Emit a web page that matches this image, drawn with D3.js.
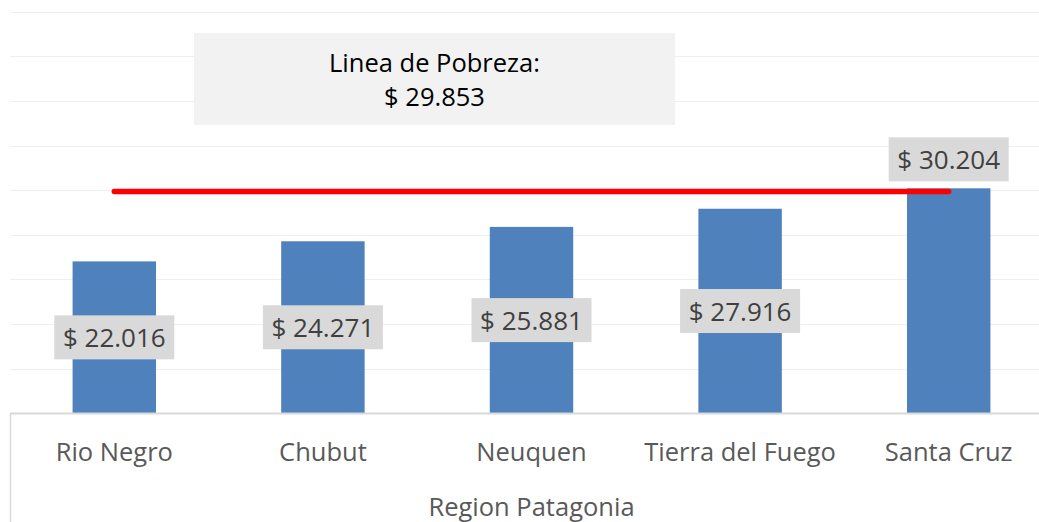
<!DOCTYPE html>
<html><head><meta charset="utf-8">
<script src="https://cdn.jsdelivr.net/npm/d3@7"></script>
<style>body{margin:0;background:#fff}svg{display:block}</style>
</head><body>
<svg id="c" width="1039" height="522"></svg>
<script>
const categories = ["Rio Negro","Chubut","Neuquen","Tierra del Fuego","Santa Cruz"];
const values = [22016,24271,25881,27916,30204];
const labels = ["$ 22.016","$ 24.271","$ 25.881","$ 27.916","$ 30.204"];
const povertyLine = 29853;
const povertyTitle = ["Linea de Pobreza:","$ 29.853"];
const yTicks = [5000,10000,15000,20000,25000,30000,35000,40000,45000,50000];
const axisTitle = "Region Patagonia";

const font = "'Open Sans', sans-serif";
const svg = d3.select("#c");
const x = d3.scaleBand().domain(categories).range([10,1053]).paddingInner(0.6).paddingOuter(0.3);
const y = d3.scaleLinear().domain([5000,50000]).range([413.3,11.6]);

// gridlines
svg.append("g").selectAll("line").data(yTicks.slice(1)).join("line")
  .attr("x1",10).attr("x2",1039).attr("y1",d=>Math.round(y(d))+0.5).attr("y2",d=>Math.round(y(d))+0.5)
  .attr("stroke","#efefef").attr("stroke-width",1);

// bars
svg.append("g").selectAll("rect").data(values).join("rect")
  .attr("x",(d,i)=>x(categories[i])).attr("width",x.bandwidth())
  .attr("y",d=>y(d)).attr("height",d=>y(5000)-y(d)).attr("fill","#4f81bd");

// category axis
const xAxis = d3.axisBottom(x).tickSize(0).tickPadding(29.5);
const gx = svg.append("g").attr("transform",`translate(0,${y(5000)})`).call(xAxis);
gx.select(".domain").remove();
gx.selectAll("text").attr("font-family",font).attr("font-size",25.5).attr("fill","#595959");
svg.append("line").attr("x1",10).attr("x2",1039).attr("y1",413.5).attr("y2",413.5).attr("stroke","#d9d9d9").attr("stroke-width",2);
svg.append("line").attr("x1",10.5).attr("x2",10.5).attr("y1",413).attr("y2",522).attr("stroke","#d9d9d9").attr("stroke-width",1.5);

svg.append("text").attr("x",(x.range()[0]+x.range()[1])/2).attr("y",515.5).attr("text-anchor","middle")
  .attr("font-family",font).attr("font-size",25.5).attr("fill","#595959").text(axisTitle);

// red poverty line
const first = categories[0], last = categories[categories.length-1];
svg.append("line").attr("x1",x(first)+x.bandwidth()/2).attr("x2",x(last)+x.bandwidth()/2)
  .attr("y1",y(povertyLine)).attr("y2",y(povertyLine))
  .attr("stroke","#ff0000").attr("stroke-width",5.5).attr("stroke-linecap","round");

// data labels
const lg = svg.append("g");
values.forEach((v,i)=>{
  const cx = x(categories[i])+x.bandwidth()/2;
  const inside = i < values.length-1;
  const cy = inside ? (y(v)+y(5000))/2 : y(v)-29;
  lg.append("rect").attr("x",cx-60).attr("y",cy-22).attr("width",120).attr("height",44).attr("fill","#d9d9d9");
  lg.append("text").attr("x",cx).attr("y",cy+9.5).attr("text-anchor","middle")
    .attr("font-family",font).attr("font-size",26).attr("fill","#404040").text(labels[i]);
});

// title box
svg.append("rect").attr("x",194).attr("y",33).attr("width",481).attr("height",92).attr("fill","#f2f2f2");
svg.append("text").attr("x",434.5).attr("y",72).attr("text-anchor","middle")
  .attr("font-family",font).attr("font-size",25.5).attr("fill","#000").text(povertyTitle[0]);
svg.append("text").attr("x",434.5).attr("y",106).attr("text-anchor","middle")
  .attr("font-family",font).attr("font-size",25.5).attr("fill","#000").text(povertyTitle[1]);
</script>
</body></html>
